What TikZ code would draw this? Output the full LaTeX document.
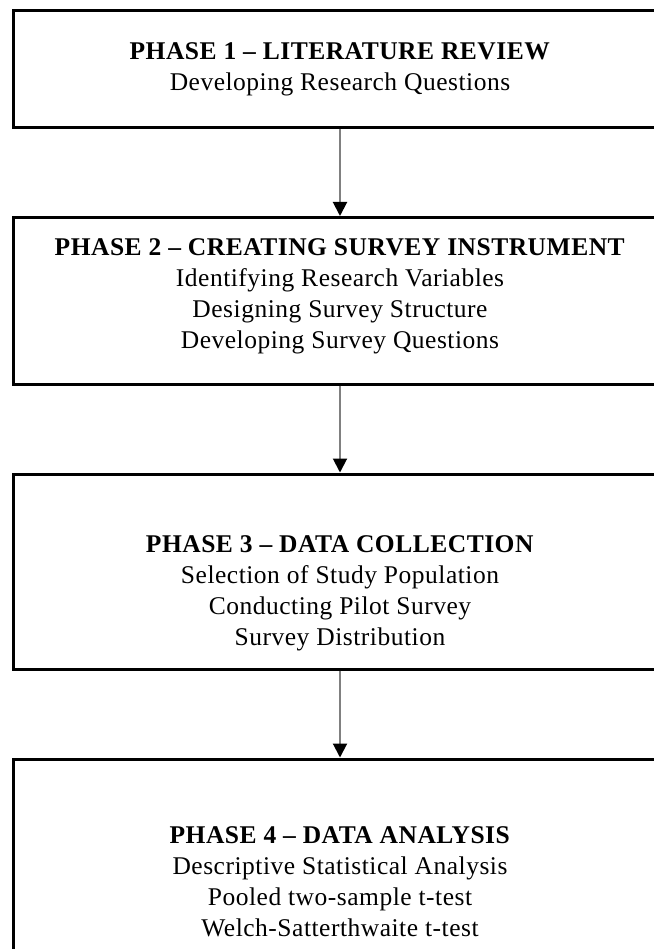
\documentclass[tikz,border=0pt]{standalone}
\usepackage{fontspec}
\setmainfont{Liberation Serif}[LetterSpace=2]
\usetikzlibrary{arrows.meta}

\tikzset{
  phasebox/.style={draw=black, line width=3pt, rectangle, inner sep=0pt,
    minimum width=653pt},
  phasetext/.style={align=center, inner sep=0pt,
    font=\fontsize{25.5}{31}\selectfont},
  flow/.style={draw=black!50, line width=2pt,
    -{Triangle[width=14pt,length=14pt,fill=black,color=black]}},
}

\begin{document}
\begin{tikzpicture}[x=1pt,y=-1pt]
  \useasboundingbox (0,0) rectangle (653,949);

  % phase boxes
  \node[phasebox, minimum height=117pt]   (b1) at (340,69) {};
  \node[phasebox, minimum height=166.5pt] (b2) at (340,300.75) {};
  \node[phasebox, minimum height=195pt]   (b3) at (340,571.5) {};
  \node[phasebox, minimum height=242pt]   (b4) at (340,880) {};

  % box contents
  \node[phasetext] (t1) at (340,69)
    {\textbf{PHASE 1 – LITERATURE REVIEW}\\Developing Research Questions};
  \node[phasetext] (t2) at (340,296)
    {\textbf{PHASE 2 – CREATING SURVEY INSTRUMENT}\\Identifying Research Variables\\Designing Survey Structure\\Developing Survey Questions};
  \node[phasetext] (t3) at (340,593)
    {\textbf{PHASE 3 – DATA COLLECTION}\\Selection of Study Population\\Conducting Pilot Survey\\Survey Distribution};
  \node[phasetext] (t4) at (340,882)
    {\textbf{PHASE 4 – DATA ANALYSIS}\\Descriptive Statistical Analysis\\Pooled two-sample t-test\\Welch-Satterthwaite t-test};

  % flow between phases
  \draw[flow] (b1.south) -- (b2.north);
  \draw[flow] (b2.south) -- (b3.north);
  \draw[flow] (b3.south) -- (b4.north);
\end{tikzpicture}
\end{document}
